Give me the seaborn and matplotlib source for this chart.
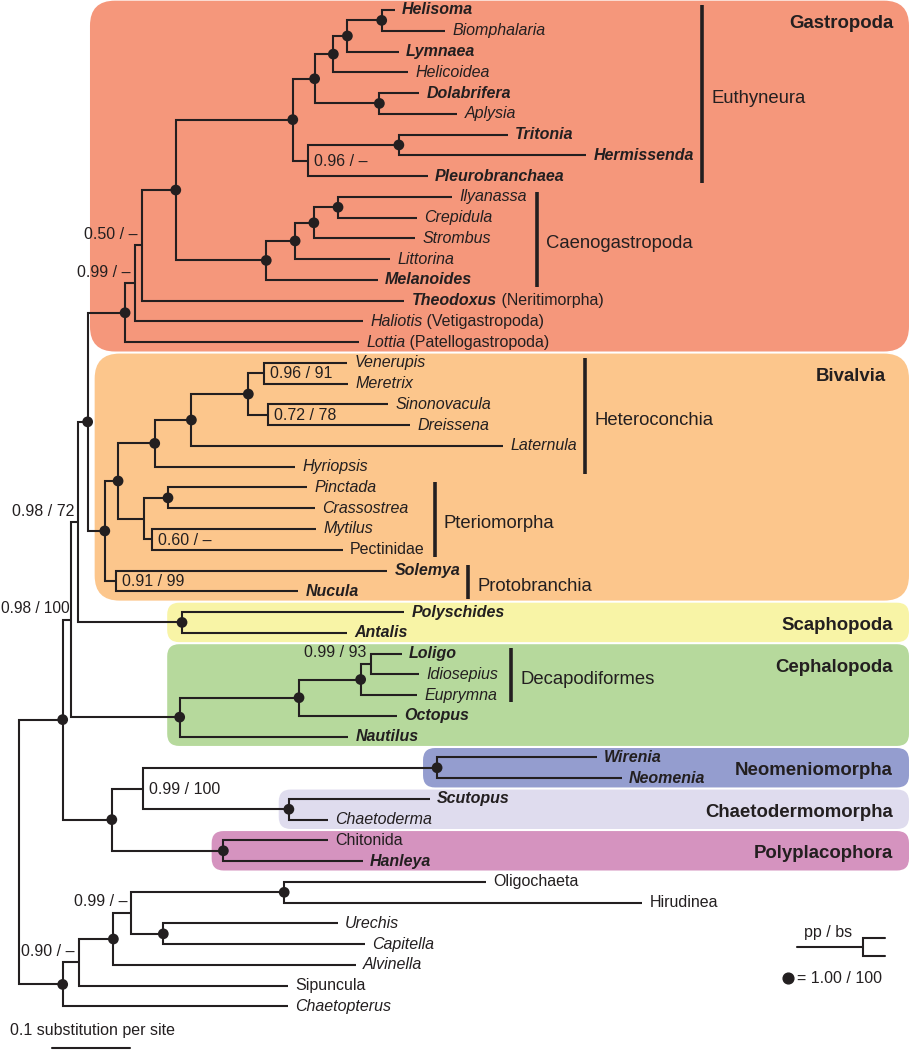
import pandas as pd
import matplotlib.pyplot as plt
from matplotlib.patches import FancyBboxPatch
import seaborn as sns

# -----------------------------
# 1. Tree data
# -----------------------------

# leaves, top to bottom, and their depth from the root (substitutions per site)
taxa = ["Helisoma", "Biomphalaria", "Lymnaea", "Helicoidea", "Dolabrifera", "Aplysia",
        "Tritonia", "Hermissenda", "Pleurobranchaea", "Ilyanassa", "Crepidula", "Strombus",
        "Littorina", "Melanoides", "Theodoxus", "Haliotis", "Lottia",
        "Venerupis", "Meretrix", "Sinonovacula", "Dreissena", "Laternula", "Hyriopsis",
        "Pinctada", "Crassostrea", "Mytilus", "Pectinidae", "Solemya", "Nucula",
        "Polyschides", "Antalis",
        "Loligo", "Idiosepius", "Euprymna", "Octopus", "Nautilus",
        "Wirenia", "Neomenia", "Scutopus", "Chaetoderma", "Chitonida", "Hanleya",
        "Oligochaeta", "Hirudinea", "Urechis", "Capitella", "Alvinella", "Sipuncula",
        "Chaetopterus"]
tip_depth = [0.482, 0.546, 0.487, 0.499, 0.513, 0.562,
             0.627, 0.727, 0.524, 0.555, 0.510, 0.508,
             0.476, 0.460, 0.494, 0.441, 0.436,
             0.421, 0.422, 0.473, 0.501, 0.621, 0.354,
             0.369, 0.379, 0.381, 0.415, 0.472, 0.358,
             0.494, 0.421,
             0.491, 0.513, 0.510, 0.485, 0.422,
             0.741, 0.773, 0.527, 0.396, 0.396, 0.441,
             0.599, 0.799, 0.409, 0.444, 0.432, 0.345,
             0.345]
tip_suffix = {"Theodoxus": "(Neritimorpha)", "Haliotis": "(Vetigastropoda)",
              "Lottia": "(Patellogastropoda)"}

# internal nodes (children before parents): name, children, depth, support pp / bs
FULL = "1.00 / 100"
node_names = ["helbio", "lym", "heli", "apl", "pulm", "nudi", "nudipleu", "euthy",
              "ily", "strom", "litt", "caeno", "apo", "theo", "hal", "gastro",
              "ven", "sin", "vensin", "lat", "hyr", "pin", "myt", "pter", "autob",
              "proto", "biv", "gb", "scaph", "gbs",
              "loli", "deca", "coleo", "ceph", "conch",
              "neo", "chae", "neochae", "poly", "acul", "moll",
              "clit", "ure", "ann1", "ann2", "ann3", "out", "root"]
node_children = [["Helisoma", "Biomphalaria"], ["helbio", "Lymnaea"], ["lym", "Helicoidea"],
                 ["Dolabrifera", "Aplysia"], ["heli", "apl"], ["Tritonia", "Hermissenda"],
                 ["nudi", "Pleurobranchaea"], ["pulm", "nudipleu"],
                 ["Ilyanassa", "Crepidula"], ["ily", "Strombus"], ["strom", "Littorina"],
                 ["litt", "Melanoides"], ["euthy", "caeno"], ["apo", "Theodoxus"],
                 ["theo", "Haliotis"], ["hal", "Lottia"],
                 ["Venerupis", "Meretrix"], ["Sinonovacula", "Dreissena"], ["ven", "sin"],
                 ["vensin", "Laternula"], ["lat", "Hyriopsis"], ["Pinctada", "Crassostrea"],
                 ["Mytilus", "Pectinidae"], ["pin", "myt"], ["hyr", "pter"],
                 ["Solemya", "Nucula"], ["autob", "proto"], ["gastro", "biv"],
                 ["Polyschides", "Antalis"], ["gb", "scaph"],
                 ["Loligo", "Idiosepius"], ["loli", "Euprymna"], ["deca", "Octopus"],
                 ["coleo", "Nautilus"], ["gbs", "ceph"],
                 ["Wirenia", "Neomenia"], ["Scutopus", "Chaetoderma"], ["neo", "chae"],
                 ["Chitonida", "Hanleya"], ["neochae", "poly"], ["conch", "acul"],
                 ["Oligochaeta", "Hirudinea"], ["Urechis", "Capitella"], ["clit", "ure"],
                 ["ann1", "Alvinella"], ["ann2", "Sipuncula"], ["ann3", "Chaetopterus"],
                 ["moll", "out"]]
node_depth = [0.465, 0.421, 0.403, 0.462, 0.379, 0.487, 0.371, 0.351,
              0.409, 0.378, 0.354, 0.317, 0.201, 0.158, 0.149, 0.136,
              0.314, 0.319, 0.294, 0.221, 0.174, 0.191, 0.171, 0.160, 0.127,
              0.124, 0.110, 0.088, 0.209, 0.076,
              0.451, 0.438, 0.359, 0.206, 0.067,
              0.536, 0.346, 0.159, 0.262, 0.119, 0.056,
              0.340, 0.185, 0.144, 0.121, 0.077, 0.056, 0.0]
node_support = [FULL, FULL, FULL, FULL, FULL, FULL, "0.96 / \u2013", FULL,
                FULL, FULL, FULL, FULL, FULL, "0.50 / \u2013", "0.99 / \u2013", FULL,
                "0.96 / 91", "0.72 / 78", FULL, FULL, FULL, FULL, "0.60 / \u2013", None, FULL,
                "0.91 / 99", FULL, FULL, FULL, "0.98 / 72",
                "0.99 / 93", FULL, FULL, FULL, "0.98 / 100",
                FULL, FULL, "0.99 / 100", FULL, FULL, FULL,
                FULL, FULL, "0.99 / \u2013", FULL, "0.90 / \u2013", FULL, None]

# coloured clades: name, first leaf, last leaf, colour
clade_names = ["Gastropoda", "Bivalvia", "Scaphopoda", "Cephalopoda",
               "Neomeniomorpha", "Chaetodermomorpha", "Polyplacophora"]
clade_first = ["Helisoma", "Venerupis", "Polyschides", "Loligo", "Wirenia", "Scutopus", "Chitonida"]
clade_last = ["Lottia", "Nucula", "Antalis", "Nautilus", "Neomenia", "Chaetoderma", "Hanleya"]
clade_colors = ["#f5977b", "#fcc68c", "#f8f4a6", "#b6d99c", "#949dcf", "#dfdcee", "#d593bf"]

# bracketed subgroups: name, first leaf, last leaf
sub_names = ["Euthyneura", "Caenogastropoda", "Heteroconchia", "Pteriomorpha",
             "Protobranchia", "Decapodiformes"]
sub_first = ["Helisoma", "Ilyanassa", "Venerupis", "Pinctada", "Solemya", "Loligo"]
sub_last = ["Pleurobranchaea", "Melanoides", "Hyriopsis", "Pectinidae", "Nucula", "Euprymna"]

# -----------------------------
# 2. Layout / style
# -----------------------------

bold_taxa = {"Helisoma", "Lymnaea", "Dolabrifera", "Tritonia", "Hermissenda", "Pleurobranchaea",
             "Melanoides", "Theodoxus", "Solemya", "Nucula", "Polyschides", "Antalis", "Loligo",
             "Octopus", "Nautilus", "Wirenia", "Neomenia", "Scutopus", "Hanleya"}
upright_taxa = {"Pectinidae", "Chitonida", "Oligochaeta", "Hirudinea", "Sipuncula"}
left_labels = {"gbs", "conch", "theo", "hal", "loli", "ann3", "ann1"}
clade_left = [0.091, 0.097, 0.190, 0.190, 0.518, 0.333, 0.247]   # box left edges
clade_label_right = [893, 886, 893, 893, 893, 893, 893]            # px
sub_bar_x = [0.876, 0.664, 0.726, 0.533, 0.576, 0.631]

sns.set_theme(style="white")
plt.rcParams['font.family'] = ['Liberation Sans', 'DejaVu Sans']

INK = "#231f20"
LW = 1.5
W, H = 910, 1050
X0, Y0, SX, SY = 19, 10, 780.0, 20.76   # root px, first leaf px, px per subst, px per leaf


def dx(px):
    return (px - X0) / SX


def dy(py):
    return (py - Y0) / SY


fig = plt.figure(figsize=(W / 100, H / 100), dpi=100)
ax = fig.add_axes([0, 0, 1, 1])
ax.set_xlim(dx(0), dx(W))
ax.set_ylim(dy(H), dy(0))
ax.axis('off')

# positions
pos = {t: (d, i) for i, (t, d) in enumerate(zip(taxa, tip_depth))}
for name, kids, d in zip(node_names, node_children, node_depth):
    ys = [pos[k][1] for k in kids]
    pos[name] = (d, (ys[0] + ys[-1]) / 2)

# -----------------------------
# 3. Clade boxes
# -----------------------------

for name, first, last, left, col, lr in zip(clade_names, clade_first, clade_last,
                                            clade_left, clade_colors, clade_label_right):
    i0, i1 = taxa.index(first), taxa.index(last)
    r = (25 if i1 - i0 > 4 else 12) / SX
    box = FancyBboxPatch((left, i0 - 0.45), dx(909) - left, i1 - i0 + 0.9,
                         boxstyle=f"round,pad=0,rounding_size={r}",
                         mutation_aspect=SX / SY, fc=col, ec="none", zorder=0)
    ax.add_patch(box)
    ax.text(dx(lr), i0 + 0.65, name, ha='right', va='center', fontsize=13.4,
            fontweight='bold', color=INK)

# -----------------------------
# 4. Branches, nodes, labels
# -----------------------------

for name, kids in zip(node_names, node_children):
    x, y = pos[name]
    for k in kids:
        kx, ky = pos[k]
        ax.plot([x, x, kx], [y, ky, ky], color=INK, lw=LW, solid_joinstyle='miter',
                solid_capstyle='butt', zorder=2)

dots = pd.DataFrame([{"x": pos[n][0], "y": pos[n][1]}
                     for n, s in zip(node_names, node_support) if s == FULL])
sns.scatterplot(data=dots, x="x", y="y", s=60, color=INK, edgecolor="none",
                legend=False, ax=ax, zorder=5)

for name, sup in zip(node_names, node_support):
    if sup is None or sup == FULL:
        continue
    x, y = pos[name]
    if name in left_labels:
        # the root-most label sits against the left edge, nudge it in
        off = -1.0 if name == "conch" else -3
        ax.annotate(sup, (x, y), xytext=(off, 8), textcoords='offset points',
                    ha='right', va='center', fontsize=11.5 if name != "conch" else 11.2,
                    color=INK)
    else:
        ax.annotate(sup, (x, y), xytext=(4.3, -0.5), textcoords='offset points',
                    ha='left', va='center', fontsize=11.5, color=INK)

for i, (t, d) in enumerate(zip(taxa, tip_depth)):
    txt = ax.annotate(t, (d, i), xytext=(5.2, 0), textcoords='offset points',
                      ha='left', va='center', fontsize=11.5, color=INK,
                      fontstyle='normal' if t in upright_taxa else 'italic',
                      fontweight='bold' if t in bold_taxa else 'normal')
    if t in tip_suffix:
        ax.annotate(" " + tip_suffix[t], xy=(1, 0), xycoords=txt, ha='left', va='bottom',
                    fontsize=11.5, color=INK)

for name, first, last, bx in zip(sub_names, sub_first, sub_last, sub_bar_x):
    i0, i1 = taxa.index(first), taxa.index(last)
    ax.vlines(bx, i0 - 0.25, i1 + 0.35, color=INK, lw=2.6)
    ax.annotate(name, (bx, (i0 + i1) / 2 + 0.25), xytext=(6.5, 0), textcoords='offset points',
                ha='left', va='center', fontsize=13.3, color=INK)

# -----------------------------
# 5. Key and scale bar
# -----------------------------

ax.text(dx(828), dy(933), "pp / bs", ha='center', va='center', fontsize=11.5, color=INK)
ax.plot([dx(797), dx(863)], [dy(947), dy(947)], color=INK, lw=LW)
ax.plot([dx(885), dx(863), dx(863), dx(885)], [dy(938), dy(938), dy(956), dy(956)],
        color=INK, lw=LW, solid_joinstyle='miter')
ax.scatter([dx(788)], [dy(978)], s=60, color=INK, zorder=5)
ax.text(dx(797), dy(978), "= 1.00 / 100", ha='left', va='center', fontsize=11.5, color=INK)

ax.plot([dx(52), dx(52) + 0.1], [dy(1048), dy(1048)], color=INK, lw=LW)
ax.text(dx(10), dy(1031), "0.1 substitution per site", ha='left', va='center',
        fontsize=11.5, color=INK)

fig.savefig("out.png", dpi=100)
